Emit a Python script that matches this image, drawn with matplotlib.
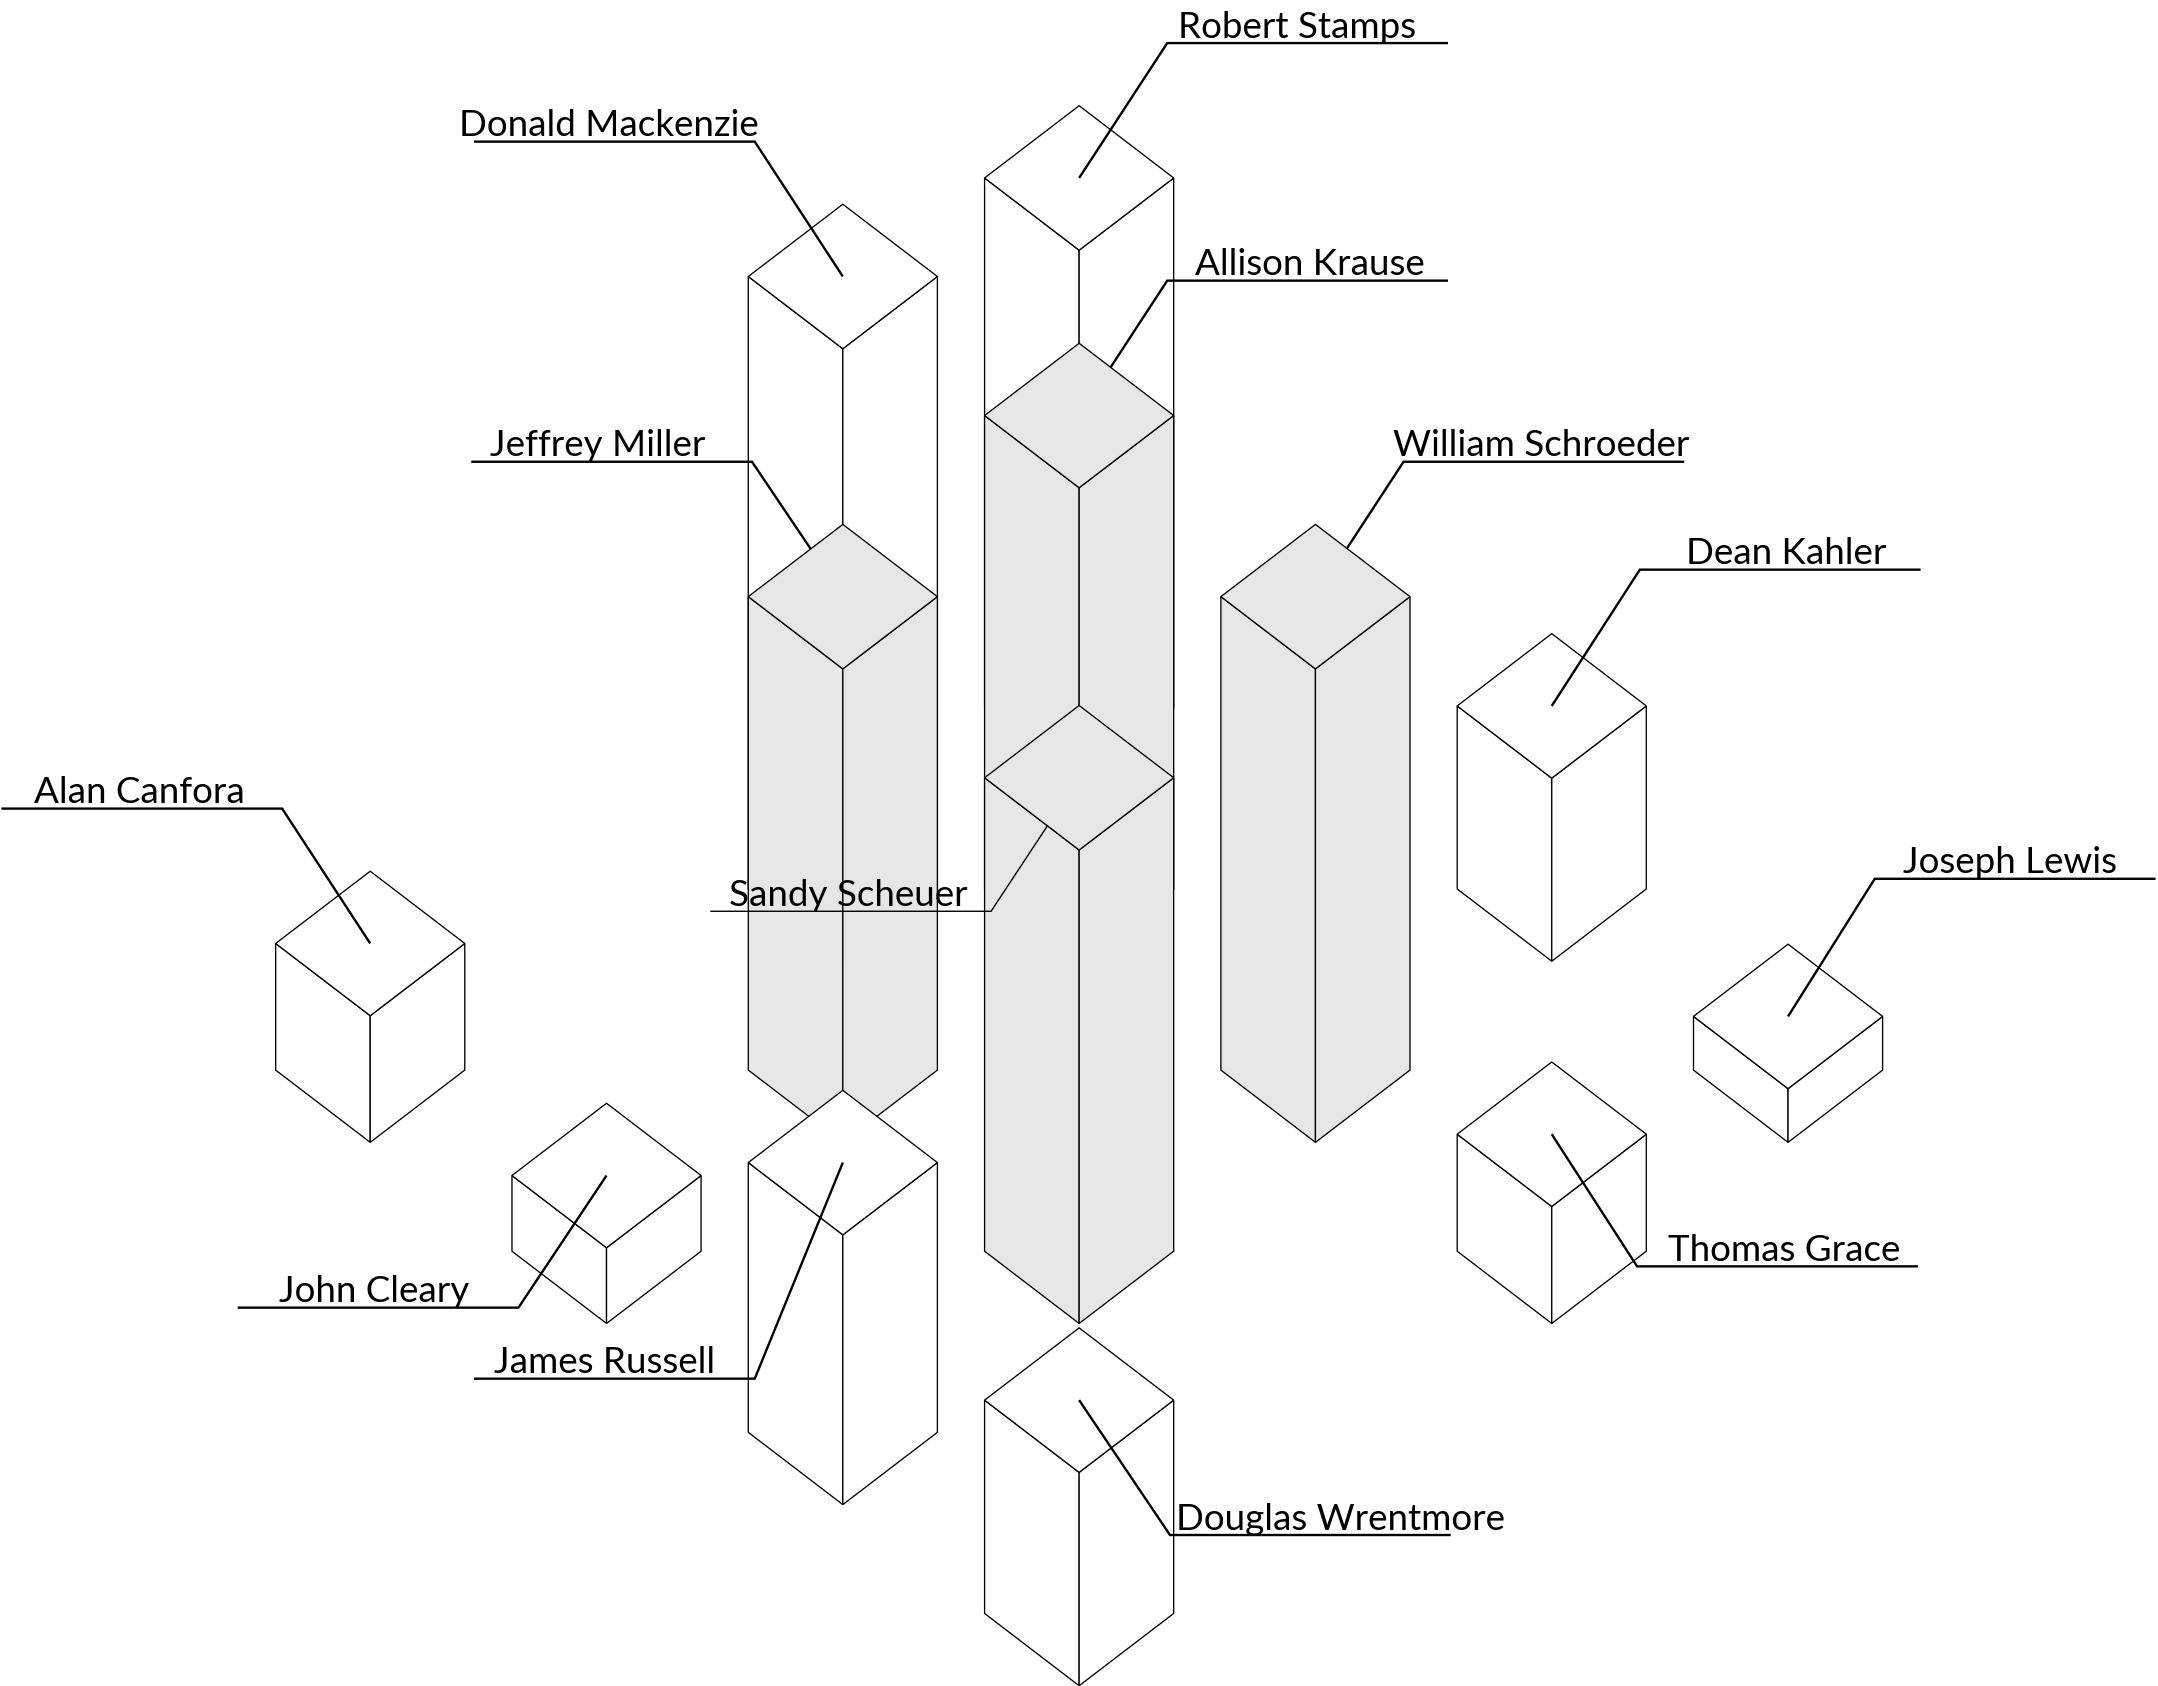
import matplotlib
matplotlib.use("Agg")
import matplotlib.pyplot as plt
from matplotlib.patches import Polygon

# people, killed (1) or wounded (0), grid column / ground row, bar height
names = ["Robert Stamps", "Donald Mackenzie", "Allison Krause", "Jeffrey Miller",
         "William Schroeder", "Dean Kahler", "Alan Canfora", "Joseph Lewis",
         "Sandy Scheuer", "John Cleary", "Thomas Grace", "James Russell",
         "Douglas Wrentmore"]
killed = [0, 0, 1, 1, 1, 0, 0, 0, 1, 0, 0, 0, 0]
col = [3, 2, 3, 2, 4, 5, 0, 6, 3, 1, 5, 2, 3]
row = [-2, -1, -1, 0, 0, -1, 0, 0, 1, 1, 1, 2, 3]
height = [385, 445, 344, 344, 344, 133, 92, 39, 344, 55, 85, 196, 155]

# leader line vector from top face centre to the label underline
lead_dx = [64, -64, 64, -66, 64, 64, -64, 63, -64, -64, 62, -64, 66]
lead_dy = [-98, -98, -98, -98, -98, -99, -98, -100, 97, 96, 96, 157, 98]
text_nudge = [-8, -4, 2, -10, -2, 4, -2, -4, -2, -3, 5, -7, 22]

# isometric layout (canvas units, y down)
X0, COLSTEP = 269.0, 171.7
Y0, ROWSTEP = 777.5, 131.6
A, B = 68.7, 52.5          # half width / half height of a top face
ULEN = 204
GRAY = "#e6e6e6"
EDGE_LW = 0.95
LEAD_LW = 1.7

plt.rcParams['font.family'] = ['Lato', 'DejaVu Sans']

fig = plt.figure(figsize=(21.58, 16.86), dpi=100)
ax = fig.add_axes([0, 0, 1, 1])
ax.set_xlim(0, 1568)
ax.set_ylim(1225, 0)
ax.axis('off')

order = sorted(range(len(names)), key=lambda i: (row[i], col[i]))

for depth, i in enumerate(order):
    cx = X0 + col[i] * COLSTEP
    gy = Y0 + row[i] * ROWSTEP          # ground centre
    ty = gy - height[i]                  # top face centre
    h = height[i]
    fc = GRAY if killed[i] else "white"
    z = 10 + 3 * depth

    top = [(cx - A, ty), (cx, ty - B), (cx + A, ty), (cx, ty + B)]
    left = [(cx - A, ty), (cx, ty + B), (cx, ty + B + h), (cx - A, ty + h)]
    right = [(cx + A, ty), (cx, ty + B), (cx, ty + B + h), (cx + A, ty + h)]
    for face in (left, right, top):
        ax.add_patch(Polygon(face, closed=True, facecolor=fc, edgecolor="black",
                             linewidth=EDGE_LW, joinstyle="miter", zorder=z))

    # leader + underline; for the killed the leader stops at the top face edge
    dx, dy = lead_dx[i], lead_dy[i]
    ex, ey = cx + dx, ty + dy
    if killed[i]:
        t = 1.0 / (abs(dx) / A + abs(dy) / B)
        sx, sy = cx + t * dx, ty + t * dy
    else:
        sx, sy = cx, ty
    side = 1 if dx > 0 else -1
    ux = ex + side * ULEN
    lw = 1.0 if names[i] == "Sandy Scheuer" else LEAD_LW
    ax.plot([sx, ex, ux], [sy, ey, ey], color="black", linewidth=lw,
            solid_joinstyle="miter", solid_capstyle="butt", zorder=z + 1)

    ax.text((ex + ux) / 2 + text_nudge[i], ey - 4, names[i], ha="center",
            va="baseline", fontsize=26.5, color="black", zorder=200)

fig.savefig("out.png", dpi=100, facecolor="white")
